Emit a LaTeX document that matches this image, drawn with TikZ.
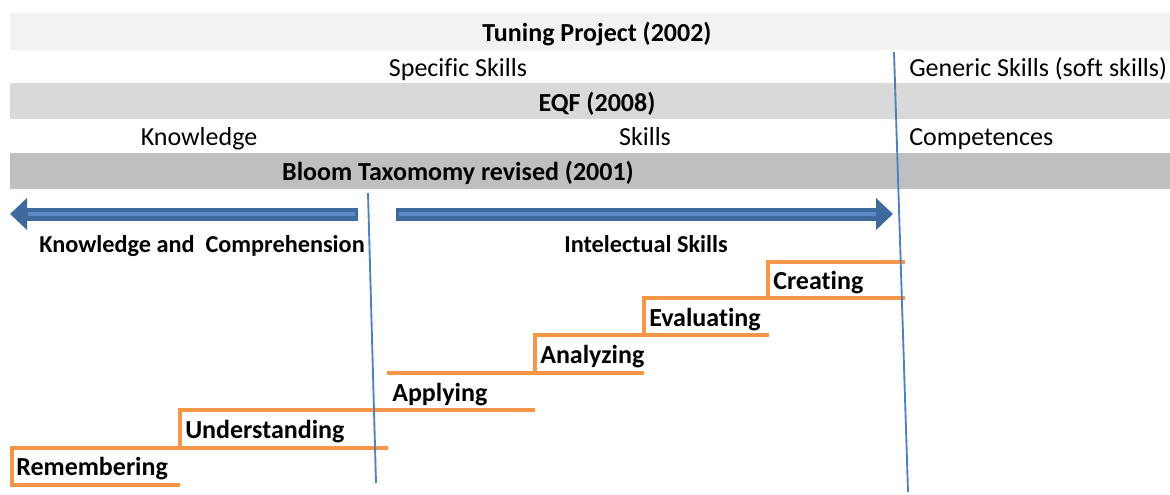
\documentclass[tikz,border=0pt]{standalone}
\usepackage{fontspec}
\setmainfont{Carlito}[Ligatures=NoCommon]
\usetikzlibrary{arrows.meta,positioning}
\definecolor{bandA}{HTML}{F2F2F2}
\definecolor{bandB}{HTML}{D9D9D9}
\definecolor{bandC}{HTML}{BFBFBF}
\definecolor{stairorange}{HTML}{F79646}
\definecolor{lineblue}{HTML}{4F81BD}
\definecolor{arrowdark}{HTML}{3F6A9E}
\definecolor{arrowlight}{HTML}{5B8AC4}

\begin{document}
\begin{tikzpicture}[x=0.75pt, y=-0.75pt,
      txt/.style={inner sep=0pt, text height=0.64em, text depth=0pt, font=\fontsize{19.5}{23}\selectfont},
      bold/.style={txt, font=\fontsize{19.5}{23}\selectfont\bfseries},
      small/.style={txt, font=\fontsize{18.2}{22}\selectfont\bfseries},
      stair/.style={draw=stairorange, line width=2.6pt},
      divider/.style={draw=lineblue, line width=1.4pt},
      blockarrow/.style={draw=arrowdark, line width=9.75pt, -{Triangle[length=12.75pt, width=23.25pt]}},
      stripe/.style={draw=arrowlight, line width=3.5pt}]
      \useasboundingbox (0, 0) rectangle (1170, 494);
      % bands
      \fill [bandA] (10, 13) rectangle (1170, 50);
      \fill [bandB] (10, 83) rectangle (1170, 119);
      \fill [bandC] (10, 153) rectangle (1170, 189);
      \node [bold] (tuning) at (597, 37) {Tuning Project (2002)};
      \node [txt] (specific) at (458, 72) {Specific Skills};
      \node [txt, anchor=west] (generic) at (909, 72) {Generic Skills (soft skills)};
      \node [bold] (eqf) at (597, 107) {EQF (2008)};
      \node [txt] (knowledge) at (199, 141) {Knowledge};
      \node [txt] (skills) at (645, 141) {Skills};
      \node [txt, anchor=west] (competences) at (909, 141) {Competences};
      \node [bold] (bloom) at (458, 176) {Bloom Taxomomy revised (2001)};
      % arrows
      \coordinate (ktail) at (358, 214);
      \coordinate (khead) at (28, 214);
      \coordinate (ktip) at (10, 214);
      \coordinate (itail) at (396, 214);
      \coordinate (ihead) at (876, 214);
      \coordinate (itip) at (893, 214);
      \draw [blockarrow] (ktail) -- (ktip);
      \draw [blockarrow] (itail) -- (itip);
      \draw [stripe] ([xshift=-2.5pt]ktail) -- (khead);
      \draw [stripe] ([xshift=2.5pt]itail) -- (ihead);
      \node [small] (kc) at (202, 248) {Knowledge and~~Comprehension};
      \node [small] (intel) at (646, 248) {Intelectual Skills};
      % stairs
      \draw [stair] (180, 485) -- (12, 485) -- (12, 448) -- (388, 448);
      \draw [stair] (180, 448) -- (180, 410) -- (535, 410);
      \draw [stair] (387, 373) -- (644, 373);
      \draw [stair] (535, 373) -- (535, 335) -- (769, 335);
      \draw [stair] (644, 335) -- (644, 298) -- (905, 298);
      \draw [stair] (768, 298) -- (768, 262) -- (905, 262);
      \node [bold, anchor=west] (remember) at (16, 471) {Remembering};
      \node [bold, anchor=west] (understand) at (185, 434) {Understanding};
      \node [bold, anchor=west] (apply) at (392, 397) {Applying};
      \node [bold, anchor=west] (analyze) at (540, 359) {Analyzing};
      \node [bold, anchor=west] (evaluate) at (649, 322) {Evaluating};
      \node [bold, anchor=west] (create) at (773, 285) {Creating};
      % dividers
      \coordinate (dtop) at (894, 52);
      \coordinate (dbot) at (908, 492);
      \coordinate (ctop) at (368, 193);
      \coordinate (cbot) at (376, 483);
      \draw [divider] (dtop) -- (dbot);
      \draw [divider] (ctop) -- (cbot);
\end{tikzpicture}
\end{document}
